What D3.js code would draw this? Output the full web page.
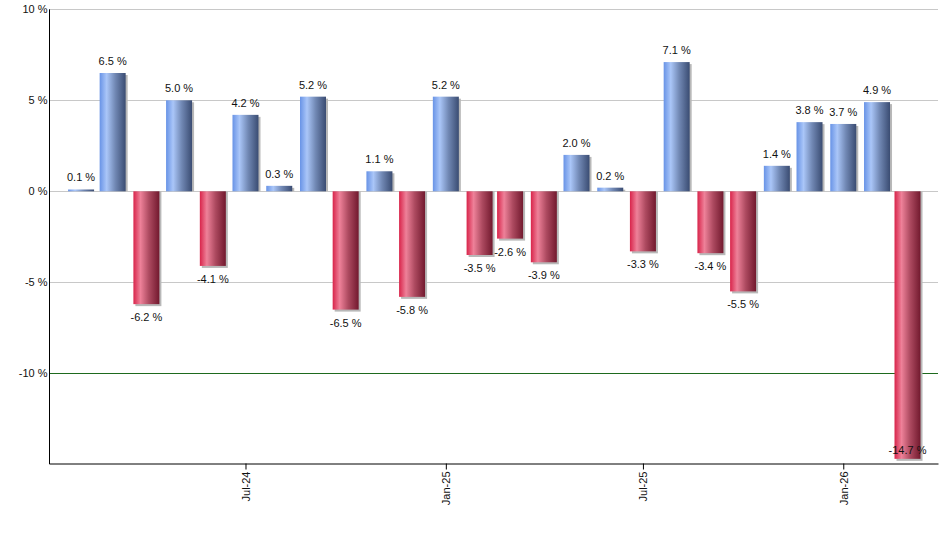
<!DOCTYPE html>
<html>
<head>
<meta charset="utf-8">
<script src="https://cdn.jsdelivr.net/npm/d3@7"></script>
<style>
  body { margin: 0; background: #fff; }
  text { font-family: "Liberation Sans", Arial, sans-serif; font-size: 11px; fill: #111; }
</style>
</head>
<body>
<script>
// monthly returns, one bar per month
const months = [
  "2024-02", "2024-03", "2024-04", "2024-05", "2024-06", "2024-07", "2024-08",
  "2024-09", "2024-10", "2024-11", "2024-12", "2025-01", "2025-02", "2025-03",
  "2025-04", "2025-05", "2025-06", "2025-07", "2025-08", "2025-09", "2025-10",
  "2025-11", "2025-12", "2026-01", "2026-02", "2026-03"
];
const returns = [
  0.1, 6.5, -6.2, 5.0, -4.1, 4.2, 0.3,
  5.2, -6.5, 1.1, -5.8, 5.2, -3.5, -2.6,
  -3.9, 2.0, 0.2, -3.3, 7.1, -3.4, -5.5,
  1.4, 3.8, 3.7, 4.9, -14.7
];
const yTicks = [10, 5, 0, -5, -10];
const xTickMonths = ["2024-07", "2025-01", "2025-07", "2026-01"];

const W = 940, H = 550;
const parse = d3.utcParse("%Y-%m");
const data = months.map((m, i) => ({ date: parse(m), value: returns[i] }));

const svg = d3.select("body").append("svg")
    .attr("width", W)
    .attr("height", H);

const plotLeft = 49.5, plotRight = 938, plotTop = 9.3, plotBottom = 464.3;

const x = d3.scaleUtc()
    .domain([Date.UTC(2024, 0, 3), Date.UTC(2026, 2, 29)])
    .range([plotLeft, plotRight]);
const y = d3.scaleLinear()
    .domain([-15, 10])
    .range([plotBottom, plotTop]);

const barW = 26;

// gradients
const defs = svg.append("defs");
function grad(id, stops) {
  defs.append("linearGradient")
      .attr("id", id)
      .attr("x1", "0%").attr("y1", "0%")
      .attr("x2", "100%").attr("y2", "0%")
      .selectAll("stop")
      .data(stops)
      .join("stop")
      .attr("offset", d => d[0])
      .attr("stop-color", d => d[1]);
}
grad("blueGrad", [["0%", "#6893e6"], ["27%", "#aac6f8"], ["60%", "#7188b4"], ["100%", "#3a4c72"]]);
grad("redGrad", [["0%", "#d8244a"], ["27%", "#ee8199"], ["60%", "#ad4a60"], ["100%", "#72192e"]]);

// gridlines
svg.append("g")
    .selectAll("line")
    .data(yTicks)
    .join("line")
    .attr("x1", plotLeft)
    .attr("x2", plotRight)
    .attr("y1", d => Math.round(y(d)) + 0.5)
    .attr("y2", d => Math.round(y(d)) + 0.5)
    .attr("stroke", d => d === -10 ? "#1e6a1e" : "#c8c8c8")
    .attr("stroke-width", 1);

// shadows
svg.append("g")
    .selectAll("rect")
    .data(data)
    .join("rect")
    .attr("x", d => x(d.date) - barW / 2 + 2)
    .attr("y", d => d.value >= 0 ? y(d.value) + 2 : y(0))
    .attr("width", barW)
    .attr("height", d => d.value >= 0 ? Math.max(0, y(0) - y(d.value) - 2) : y(d.value) - y(0) + 2)
    .attr("fill", "#b8b8b8");

// bars
svg.append("g")
    .selectAll("rect")
    .data(data)
    .join("rect")
    .attr("x", d => x(d.date) - barW / 2)
    .attr("y", d => y(Math.max(0, d.value)))
    .attr("width", barW)
    .attr("height", d => Math.abs(y(d.value) - y(0)))
    .attr("fill", d => d.value >= 0 ? "url(#blueGrad)" : "url(#redGrad)");

// value labels
svg.append("g")
    .selectAll("text")
    .data(data)
    .join("text")
    .attr("x", d => x(d.date))
    .attr("y", d => {
      if (d.value >= 0) return y(d.value) - 8;
      const yy = y(d.value) + 17;
      return yy > plotBottom - 8 ? plotBottom - 10 : yy;
    })
    .attr("text-anchor", "middle")
    .text(d => d.value.toFixed(1) + " %");

// y axis
svg.append("line")
    .attr("x1", plotLeft).attr("x2", plotLeft)
    .attr("y1", plotTop).attr("y2", plotBottom)
    .attr("stroke", "#000");
svg.append("g")
    .selectAll("text")
    .data(yTicks)
    .join("text")
    .attr("x", plotLeft - 2)
    .attr("y", d => y(d))
    .attr("dy", "0.35em")
    .attr("text-anchor", "end")
    .text(d => d + " %");

// x axis
const xAxis = svg.append("g")
    .attr("transform", `translate(0,${Math.round(plotBottom) - 0.5})`)
    .call(d3.axisBottom(x)
        .tickValues(xTickMonths.map(parse))
        .tickFormat(d3.utcFormat("%b-%y"))
        .tickSize(6)
        .tickSizeOuter(0));
xAxis.select(".domain").attr("stroke", "#000");
xAxis.selectAll(".tick line").attr("stroke", "#000");
xAxis.selectAll(".tick text")
    .attr("font-family", null)
    .attr("font-size", null)
    .attr("transform", "rotate(-90)")
    .attr("text-anchor", "end")
    .attr("x", -8)
    .attr("y", 0)
    .attr("dy", "0.35em");
</script>
</body>
</html>
